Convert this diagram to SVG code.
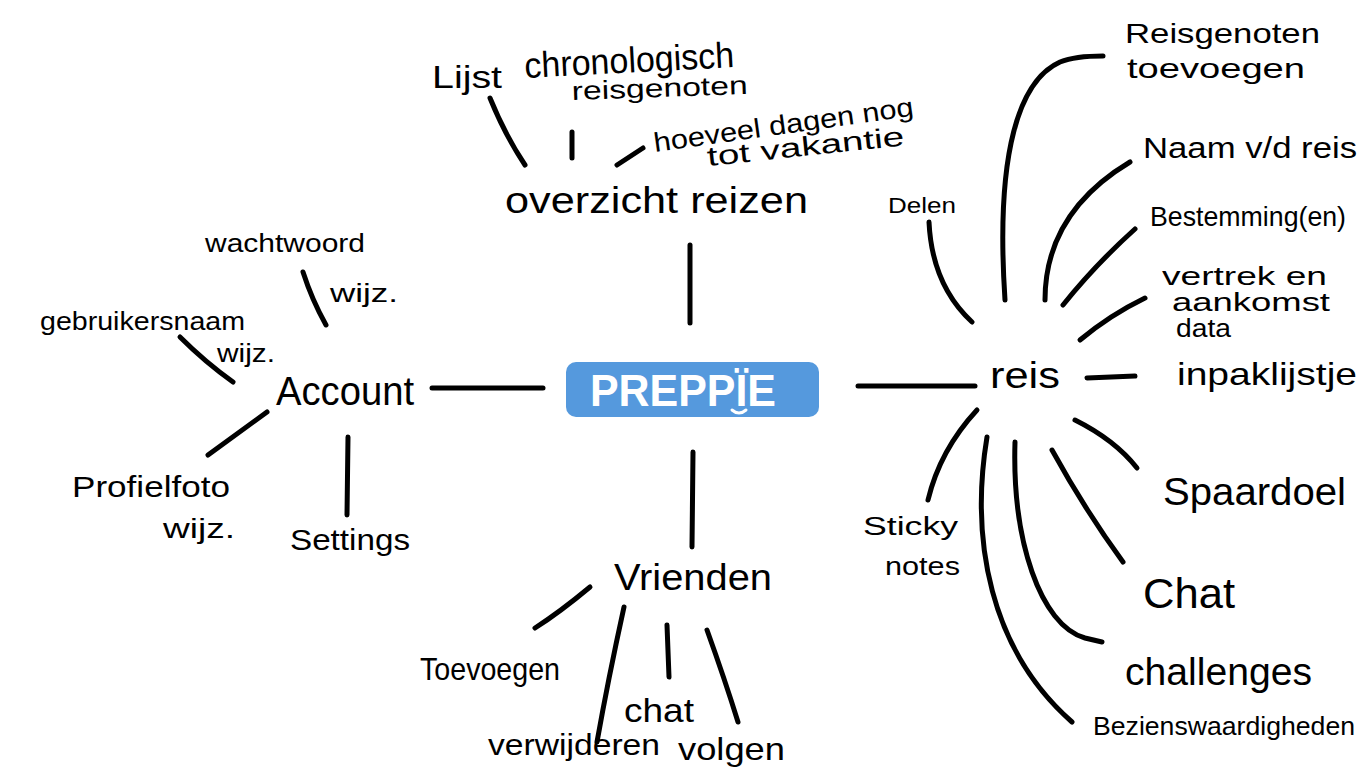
<svg xmlns="http://www.w3.org/2000/svg" width="1366" height="768" viewBox="0 0 1366 768">
<style>
.t{font-family:"Liberation Sans",sans-serif;fill:#000;}
.c{stroke:#000;stroke-width:5;stroke-linecap:round;fill:none;}
</style>
<rect width="1366" height="768" fill="#fff"/>
<g id="connectors">
<path class="c" d="M432,388 L543,388"/>
<path class="c" d="M858,386 L975,386"/>
<path class="c" d="M1087,378 L1135,376"/>
<path class="c" d="M690,245 L690,323"/>
<path class="c" d="M693,452 L692,547"/>
<path class="c" d="M490,98 Q505,135 525,165"/>
<path class="c" d="M572,132 L572,158"/>
<path class="c" d="M617,165 L643,148"/>
<path class="c" d="M303,272 Q312,300 326,325"/>
<path class="c" d="M180,337 Q205,362 233,382"/>
<path class="c" d="M267,412 L208,455"/>
<path class="c" d="M348,437 L347,515"/>
<path class="c" d="M590,587 Q560,612 535,628"/>
<path class="c" d="M624,607 Q608,680 597,742"/>
<path class="c" d="M667,625 L669,677"/>
<path class="c" d="M707,630 Q725,680 738,722"/>
<path class="c" d="M929,222 Q932,285 972,322"/>
<path class="c" d="M1005,300 C995,150 1020,80 1060,62 Q1075,56 1103,56"/>
<path class="c" d="M1045,300 C1045,240 1075,195 1130,162"/>
<path class="c" d="M1063,305 Q1095,265 1135,229"/>
<path class="c" d="M1080,340 Q1110,315 1145,298"/>
<path class="c" d="M977,410 Q940,450 928,500"/>
<path class="c" d="M987,437 C970,540 990,650 1072,722"/>
<path class="c" d="M1015,442 C1012,540 1040,625 1085,638 L1102,642"/>
<path class="c" d="M1052,450 Q1085,510 1123,562"/>
<path class="c" d="M1075,420 Q1115,440 1137,468"/>
</g>
<g id="preppie">
<rect x="566" y="362" width="253" height="55" rx="10" fill="#5599dd"/>
<text class="t" x="590" y="406" font-size="44" font-weight="bold" style="fill:#fff" textLength="186" lengthAdjust="spacingAndGlyphs">PREPPÏE</text>
<path d="M732,410 Q739,416 746,410" stroke="#fff" stroke-width="3" fill="none" stroke-linecap="round"/>
</g>
<g id="overzicht-reizen"><text class="t" x="505" y="213" font-size="36" textLength="303" lengthAdjust="spacingAndGlyphs">overzicht reizen</text></g>
<g id="lijst-chronologisch">
<text class="t" x="432" y="88" font-size="32" textLength="70" lengthAdjust="spacingAndGlyphs">Lijst</text>
<text class="t" x="525" y="78" font-size="36" textLength="210" lengthAdjust="spacingAndGlyphs" transform="rotate(-3 525 78)">chronologisch</text>
</g>
<g id="reisgenoten"><text class="t" x="572" y="100" font-size="26" textLength="176" lengthAdjust="spacingAndGlyphs" transform="rotate(-2 572 100)">reisgenoten</text></g>
<g id="hoeveel-dagen">
<text class="t" x="655" y="152" font-size="27" textLength="262" lengthAdjust="spacingAndGlyphs" transform="rotate(-8 655 152)">hoeveel dagen nog</text>
<text class="t" x="708" y="166" font-size="27" textLength="198" lengthAdjust="spacingAndGlyphs" transform="rotate(-6 708 166)">tot vakantie</text>
</g>
<g id="account"><text class="t" x="276" y="405" font-size="40" textLength="138" lengthAdjust="spacingAndGlyphs">Account</text></g>
<g id="wachtwoord">
<text class="t" x="205" y="252" font-size="26" textLength="160" lengthAdjust="spacingAndGlyphs">wachtwoord</text>
<text class="t" x="330" y="302" font-size="26" textLength="68" lengthAdjust="spacingAndGlyphs">wijz.</text>
</g>
<g id="gebruikersnaam">
<text class="t" x="40" y="330" font-size="26" textLength="205" lengthAdjust="spacingAndGlyphs">gebruikersnaam</text>
<text class="t" x="217" y="362" font-size="26" textLength="58" lengthAdjust="spacingAndGlyphs">wijz.</text>
</g>
<g id="profielfoto">
<text class="t" x="72" y="497" font-size="30" textLength="158" lengthAdjust="spacingAndGlyphs">Profielfoto</text>
<text class="t" x="163" y="538" font-size="28" textLength="72" lengthAdjust="spacingAndGlyphs">wijz.</text>
</g>
<g id="settings"><text class="t" x="290" y="550" font-size="30" textLength="120" lengthAdjust="spacingAndGlyphs">Settings</text></g>
<g id="vrienden"><text class="t" x="614" y="590" font-size="36" textLength="158" lengthAdjust="spacingAndGlyphs">Vrienden</text></g>
<g id="toevoegen"><text class="t" x="420" y="680" font-size="32" textLength="140" lengthAdjust="spacingAndGlyphs">Toevoegen</text></g>
<g id="chat-vrienden"><text class="t" x="624" y="722" font-size="34" textLength="70" lengthAdjust="spacingAndGlyphs">chat</text></g>
<g id="verwijderen"><text class="t" x="488" y="755" font-size="30" textLength="172" lengthAdjust="spacingAndGlyphs">verwijderen</text></g>
<g id="volgen"><text class="t" x="678" y="760" font-size="32" textLength="107" lengthAdjust="spacingAndGlyphs">volgen</text></g>
<g id="reis"><text class="t" x="990" y="388" font-size="36" textLength="70" lengthAdjust="spacingAndGlyphs">reis</text></g>
<g id="delen"><text class="t" x="888" y="213" font-size="22" textLength="68" lengthAdjust="spacingAndGlyphs">Delen</text></g>
<g id="reisgenoten-toevoegen">
<text class="t" x="1125" y="43" font-size="28" textLength="195" lengthAdjust="spacingAndGlyphs">Reisgenoten</text>
<text class="t" x="1127" y="78" font-size="28" textLength="178" lengthAdjust="spacingAndGlyphs">toevoegen</text>
</g>
<g id="naam"><text class="t" x="1143" y="158" font-size="30" textLength="214" lengthAdjust="spacingAndGlyphs">Naam v/d reis</text></g>
<g id="bestemming"><text class="t" x="1150" y="226" font-size="28" textLength="196" lengthAdjust="spacingAndGlyphs">Bestemming(en)</text></g>
<g id="vertrek">
<text class="t" x="1162" y="285" font-size="25" textLength="165" lengthAdjust="spacingAndGlyphs">vertrek en</text>
<text class="t" x="1172" y="311" font-size="25" textLength="158" lengthAdjust="spacingAndGlyphs">aankomst</text>
<text class="t" x="1176" y="337" font-size="25" textLength="55" lengthAdjust="spacingAndGlyphs">data</text>
</g>
<g id="inpaklijstje"><text class="t" x="1177" y="385" font-size="32" textLength="180" lengthAdjust="spacingAndGlyphs">inpaklijstje</text></g>
<g id="spaardoel"><text class="t" x="1163" y="505" font-size="38" textLength="183" lengthAdjust="spacingAndGlyphs">Spaardoel</text></g>
<g id="chat-reis"><text class="t" x="1143" y="608" font-size="42" textLength="92" lengthAdjust="spacingAndGlyphs">Chat</text></g>
<g id="challenges"><text class="t" x="1125" y="685" font-size="38" textLength="187" lengthAdjust="spacingAndGlyphs">challenges</text></g>
<g id="bezienswaardigheden"><text class="t" x="1093" y="735" font-size="25" textLength="262" lengthAdjust="spacingAndGlyphs">Bezienswaardigheden</text></g>
<g id="sticky-notes">
<text class="t" x="863" y="535" font-size="26" textLength="95" lengthAdjust="spacingAndGlyphs">Sticky</text>
<text class="t" x="885" y="575" font-size="26" textLength="75" lengthAdjust="spacingAndGlyphs">notes</text>
</g>
</svg>
